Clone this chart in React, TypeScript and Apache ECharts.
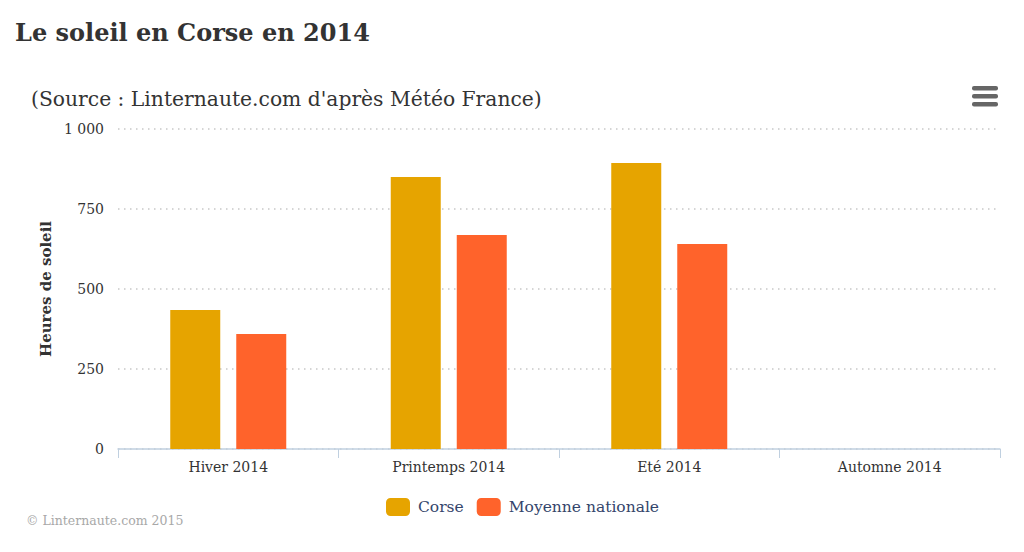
import React, { useEffect, useRef } from "react";
import * as echarts from "echarts";

const categories = ["Hiver 2014", "Printemps 2014", "Eté 2014", "Automne 2014"];
const corse = [434, 850, 894, null];
const moyenne = [359, 669, 641, null];
const seriesNames = ["Corse", "Moyenne nationale"];
const titleText = "Le soleil en Corse en 2014";
const subtitleText = "(Source : Linternaute.com d'après Météo France)";
const yAxisName = "Heures de soleil";
const creditText = "© Linternaute.com 2015";

const FONT = "DejaVu Serif";

export default function App() {
  const ref = useRef<HTMLDivElement>(null);
  useEffect(() => {
    document.body.style.margin = "0";
    const chart = echarts.init(ref.current!, undefined, { renderer: "svg" });
    chart.setOption({
      animation: false,
      backgroundColor: "#ffffff",
      textStyle: { fontFamily: FONT },
      title: [
        {
          text: titleText,
          left: 10,
          top: 15,
          textStyle: { fontFamily: FONT, fontSize: 24, fontWeight: "bold", color: "#333333" },
        },
        {
          text: subtitleText,
          left: 26,
          top: 84,
          textStyle: { fontFamily: FONT, fontSize: 20.3, fontWeight: "normal", color: "#333333" },
        },
      ],
      legend: {
        bottom: 31,
        left: 381,
        icon: "roundRect",
        itemWidth: 24,
        itemHeight: 18,
        itemGap: 13,
        textStyle: { fontFamily: FONT, fontSize: 15.5, color: "#34456b", padding: [0, 0, 0, 3] },
        data: seriesNames,
      },
      grid: { left: 118, right: 24, top: 129, bottom: 103 },
      xAxis: {
        type: "category",
        data: categories,
        axisLine: { lineStyle: { color: "#c0d0e0", width: 1.5 } },
        axisTick: { show: true, alignWithLabel: false, length: 9, lineStyle: { color: "#c0d0e0" } },
        axisLabel: { fontFamily: FONT, fontSize: 14, color: "#333333", margin: 11 },
      },
      yAxis: {
        type: "value",
        min: 0,
        max: 1000,
        interval: 250,
        name: yAxisName,
        nameLocation: "middle",
        nameRotate: 90,
        nameGap: 63,
        nameTextStyle: { fontFamily: FONT, fontSize: 15, fontWeight: "bold", color: "#333333" },
        axisLabel: {
          fontFamily: FONT,
          fontSize: 14,
          color: "#333333",
          margin: 14,
          formatter: (v: number) => (v >= 1000 ? String(v).replace(/(\d)(?=(\d{3})+$)/g, "$1 ") : String(v)),
        },
        splitLine: { show: true, lineStyle: { color: "#c8c8c8", type: [1.5, 4.5], width: 1.5 } },
        axisLine: { show: false },
        axisTick: { show: false },
      },
      series: [
        {
          name: seriesNames[0],
          type: "bar",
          data: corse,
          itemStyle: { color: "#e6a400" },
          barWidth: 50,
          barGap: "32%",
        },
        {
          name: seriesNames[1],
          type: "bar",
          data: moyenne,
          itemStyle: { color: "#ff632b" },
          barWidth: 50,
          barGap: "32%",
        },
      ],
      graphic: [
        {
          type: "group",
          left: 972,
          top: 86,
          children: [
            { type: "rect", shape: { x: 0, y: 0, width: 26, height: 4.5, r: 2 }, style: { fill: "#666666" } },
            { type: "rect", shape: { x: 0, y: 8, width: 26, height: 4.5, r: 2 }, style: { fill: "#666666" } },
            { type: "rect", shape: { x: 0, y: 16, width: 26, height: 4.5, r: 2 }, style: { fill: "#666666" } },
          ],
        },
        {
          type: "text",
          left: 26,
          top: 514,
          style: { text: creditText, fontFamily: FONT, fontSize: 12.5, fill: "#a8a8a8" },
        },
      ],
    });
    return () => chart.dispose();
  }, []);
  return <div ref={ref} style={{ position: "absolute", left: 0, top: 0, width: 1024, height: 552 }} />;
}
